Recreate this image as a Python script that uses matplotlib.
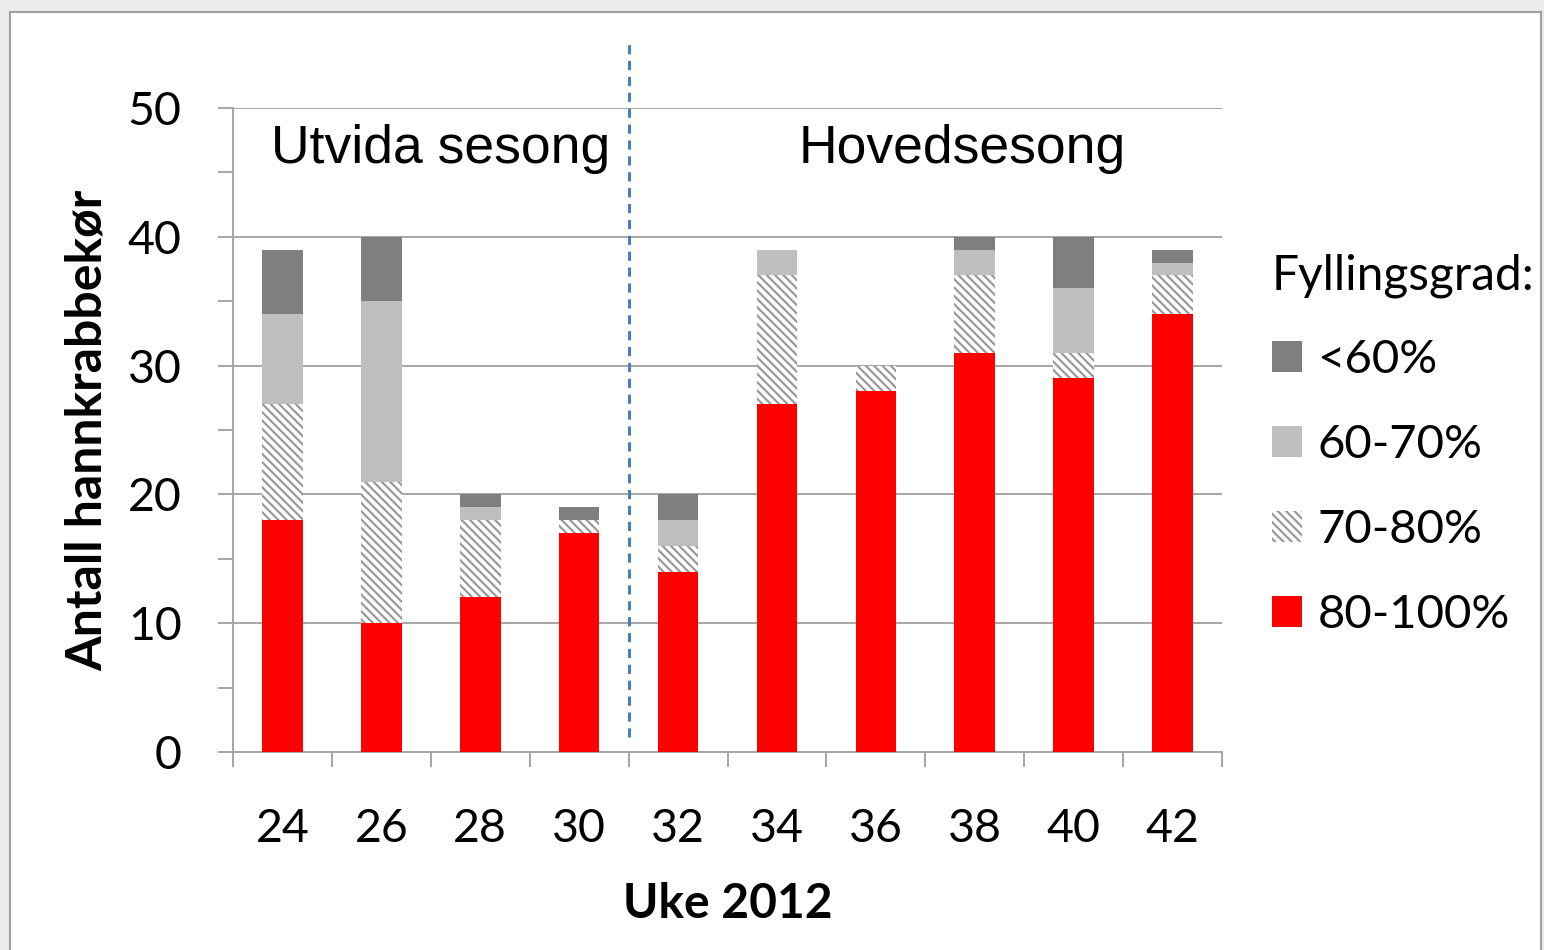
import matplotlib
matplotlib.use("Agg")
import matplotlib.pyplot as plt
import matplotlib.patches as mpatches
import numpy as np

weeks = ["24", "26", "28", "30", "32", "34", "36", "38", "40", "42"]
v80_100 = [18, 10, 12, 17, 14, 27, 28, 31, 29, 34]
v70_80 = [9, 11, 6, 1, 2, 10, 2, 6, 2, 3]
v60_70 = [7, 14, 1, 0, 2, 2, 0, 2, 5, 1]
v_lt60 = [5, 5, 1, 1, 2, 0, 0, 1, 4, 1]
series_labels = ["80-100%", "70-80%", "60-70%", "<60%"]
y_ticks = [0, 10, 20, 30, 40, 50]

plt.rcParams['hatch.linewidth'] = 1.6

W, H = 1544, 950
fig = plt.figure(figsize=(W / 100, H / 100), dpi=100)
fig.patch.set_facecolor("#ececec")

# white panel with border
panel = mpatches.Rectangle((10 / W, -0.05), (1541 - 10) / W, 1.05 - 12 / H,
                           transform=fig.transFigure, facecolor="white",
                           edgecolor="#a0a0a0", linewidth=1.5, zorder=0)
fig.add_artist(panel)

ax = fig.add_axes([233 / W, 1 - 752 / H, (1222 - 233) / W, (752 - 108) / H])
ax.set_facecolor("none")

x = np.arange(len(weeks))
bw = 0.41
b1 = np.array(v80_100)
b2 = b1 + np.array(v70_80)
b3 = b2 + np.array(v60_70)

ax.bar(x, v80_100, bw, color="#ff0000", linewidth=0, zorder=3, label=series_labels[0])
ax.bar(x, v70_80, bw, bottom=b1, color="white", edgecolor="#9a9a9a", hatch="\\\\\\\\",
       linewidth=0, zorder=3, label=series_labels[1])
ax.bar(x, v60_70, bw, bottom=b2, color="#bfbfbf", linewidth=0, zorder=3, label=series_labels[2])
ax.bar(x, v_lt60, bw, bottom=b3, color="#7f7f7f", linewidth=0, zorder=3, label=series_labels[3])

ax.set_xlim(-0.5, len(weeks) - 0.5)
ax.set_ylim(0, 50)

# y axis
ax.set_yticks(y_ticks)
ax.set_yticks(np.arange(5, 50, 10), minor=True)
ax.yaxis.grid(True, which="major", color="#a6a6a6", linewidth=1.4, zorder=0)
ax.tick_params(axis="y", which="both", length=11, width=1.4, color="#a6a6a6",
               labelsize=33.5, pad=26)
for lab in ax.get_yticklabels():
    lab.set_fontfamily("Lato")

# x axis: boundary ticks, labels at centers
ax.set_xticks(np.arange(-0.5, len(weeks), 1.0))
ax.set_xticklabels([])
ax.set_xticks(x, minor=True)
ax.set_xticklabels(weeks, minor=True, fontfamily="Lato", fontsize=33.5)
ax.tick_params(axis="x", which="major", length=11, width=1.4, color="#a6a6a6")
ax.tick_params(axis="x", which="minor", length=0, pad=40)

for s in ["top", "right"]:
    ax.spines[s].set_visible(False)
for s in ["left", "bottom"]:
    ax.spines[s].set_color("#a6a6a6")
    ax.spines[s].set_linewidth(1.4)

ax.set_xlabel("Uke 2012", fontfamily="Lato", fontweight="bold", fontsize=34.5, labelpad=23)
ax.set_ylabel("Antall hannkrabbekør", fontfamily="Lato", fontweight="bold", fontsize=36,
              labelpad=13)

# season divider
ax.plot([3.5, 3.5], [1.2, 55.3], linestyle=(0, (3, 2.2)), color="#4a7ebb",
        linewidth=2.2, clip_on=False, zorder=4)
ax.text(1.6, 46.8, "Utvida sesong", fontfamily="Liberation Sans", fontsize=38.5,
        ha="center", va="center")
ax.text(6.87, 46.8, "Hovedsesong", fontfamily="Liberation Sans", fontsize=38.5,
        ha="center", va="center")

handles, labels = ax.get_legend_handles_labels()
leg = fig.legend(handles[::-1], labels[::-1], loc="upper left",
                 bbox_to_anchor=(1272 / W, 1 - 253 / H), frameon=False,
                 title="Fyllingsgrad:", alignment="left",
                 borderaxespad=0, borderpad=0,
                 prop={"family": "Lato", "size": 34},
                 title_fontproperties={"family": "Lato", "size": 34.5},
                 handlelength=0.64, handleheight=0.64, handletextpad=0.32,
                 labelspacing=0.91)
leg._legend_box.sep = 30

fig.savefig("out.png", dpi=100, facecolor=fig.get_facecolor())
